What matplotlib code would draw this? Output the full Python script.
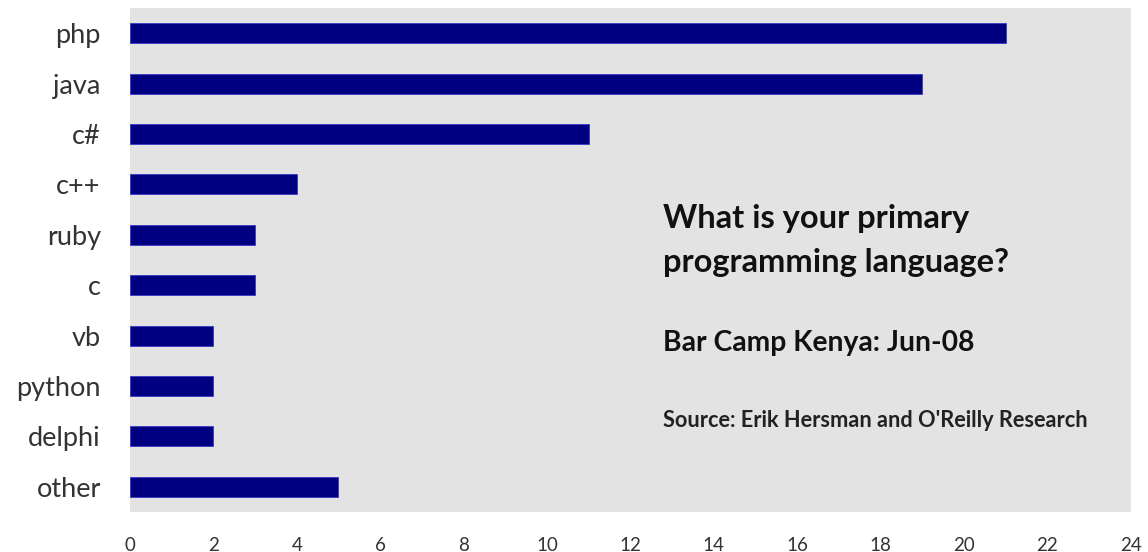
import matplotlib
matplotlib.use('Agg')
import matplotlib.pyplot as plt

# survey results
languages = ['php', 'java', 'c#', 'c++', 'ruby', 'c', 'vb', 'python', 'delphi', 'other']
counts = [21, 19, 11, 4, 3, 3, 2, 2, 2, 5]
xticks = list(range(0, 25, 2))

plt.rcParams['font.family'] = ['Lato', 'DejaVu Sans']

fig = plt.figure(figsize=(11.48, 5.52), dpi=100)
ax = fig.add_axes([0.1132, 0.0725, 0.8718, 0.913])
ax.set_facecolor('#e3e3e3')

ypos = list(range(len(languages)))
ax.barh(ypos, counts, height=0.4, color='#000080', edgecolor='#3a3acc', linewidth=0.6)
ax.set_ylim(len(languages) - 0.5, -0.5)
ax.set_xlim(0, 24)
ax.set_yticks(ypos)
ax.set_yticklabels(languages, fontsize=19.5, color='#333333')
ax.set_xticks(xticks)
ax.set_xticklabels([str(t) for t in xticks], fontsize=13.5, color='#333333')
ax.tick_params(axis='y', length=0, pad=21)
ax.tick_params(axis='x', length=0, pad=18)
for s in ax.spines.values():
    s.set_visible(False)

# annotation text inside the plot
tx = 12.78
ax.text(tx, 3.67, 'What is your primary', fontsize=23.5, fontweight='bold',
        color='#111111', va='center', ha='left')
ax.text(tx, 4.54, 'programming language?', fontsize=23.5, fontweight='bold',
        color='#111111', va='center', ha='left')
ax.text(tx, 6.15, 'Bar Camp Kenya: Jun-08', fontsize=20.3, fontweight='bold',
        color='#111111', va='center', ha='left')
ax.text(tx, 7.68, "Source: Erik Hersman and O'Reilly Research", fontsize=15.7, fontweight='bold',
        color='#222222', va='center', ha='left')

fig.savefig('out.png', dpi=100)
